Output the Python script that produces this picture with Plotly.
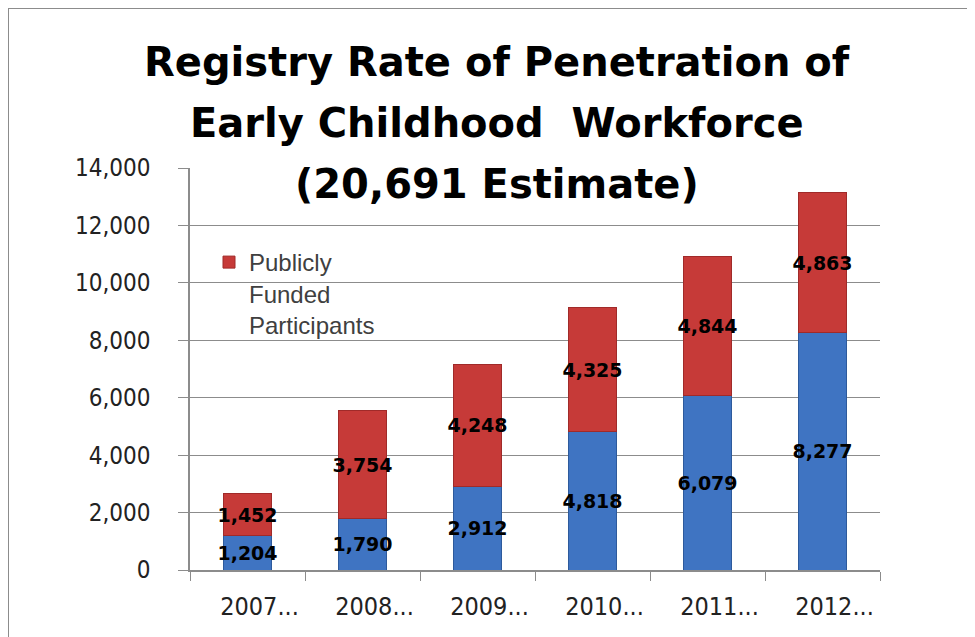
import plotly.graph_objects as go

years = ["2007...", "2008...", "2009...", "2010...", "2011...", "2012..."]
registry = [1204, 1790, 2912, 4818, 6079, 8277]
public = [1452, 3754, 4248, 4325, 4844, 4863]
title_lines = ["Registry Rate of Penetration of", "Early Childhood  Workforce", "(20,691 Estimate)"]
y_ticks = [0, 2000, 4000, 6000, 8000, 10000, 12000, 14000]

label_font = dict(family="DejaVu Sans", size=19, color="black", weight="bold")

# plot area in figure pixels
L, R, T, B = 182, 872, 160, 562
W, H = R - L, B - T

def px(x):
    return (x - L) / W

def py(y):
    return (B - y) / H

fig = go.Figure()
fig.add_trace(go.Bar(
    x=years, y=registry, name="Registry", showlegend=False,
    marker=dict(color="#3F74C2", line=dict(color="#2D5A9C", width=1)),
    text=[f"{v:,}" for v in registry], textposition="inside",
    insidetextanchor="middle", textangle=0, constraintext="none",
    insidetextfont=label_font,
))
fig.add_trace(go.Bar(
    x=years, y=public, name="Publicly<br>Funded<br>Participants",
    marker=dict(color="#C63A38", line=dict(color="#A02A29", width=1)),
    text=[f"{v:,}" for v in public], textposition="inside",
    insidetextanchor="middle", textangle=0, constraintext="none",
    insidetextfont=label_font,
))

ys = [54, 115, 176]
for line, yc in zip(title_lines, ys):
    fig.add_annotation(
        text=line, xref="paper", yref="paper",
        x=px(489), y=py(yc),
        xanchor="center", yanchor="middle", showarrow=False,
        font=dict(family="DejaVu Sans", size=40, color="black", weight="bold"),
    )

fig.add_shape(type="rect", xref="paper", yref="paper",
              x0=px(0), x1=px(1000), y0=py(660), y1=py(0),
              line=dict(color="#8C8C8C", width=2), layer="below")

fig.update_layout(
    width=975, height=637,
    barmode="stack", bargap=0.58,
    paper_bgcolor="white", plot_bgcolor="white",
    margin=dict(l=L, r=975 - R, t=T, b=637 - B),
    showlegend=True,
    legend=dict(x=px(201), y=py(232), xanchor="left", yanchor="top",
                bgcolor="rgba(0,0,0,0)", valign="top", tracegroupgap=0,
                font=dict(family="Liberation Sans", size=24, color="#404040")),
    xaxis=dict(showline=True, linecolor="#8C8C8C", linewidth=1.5,
               ticks="outside", tickson="boundaries", ticklen=9, tickcolor="#8C8C8C",
               ticklabelstandoff=13, ticklabelshift=12,
               tickfont=dict(family="DejaVu Sans Condensed", size=25, color="#222222"),
               showgrid=False),
    yaxis=dict(range=[0, 14000], tickvals=y_ticks,
               ticktext=[f"{v:,}" for v in y_ticks],
               showline=True, linecolor="#8C8C8C", linewidth=1.5,
               ticks="outside", ticklen=10, tickcolor="#8C8C8C",
               ticklabelstandoff=23,
               gridcolor="#8C8C8C", gridwidth=1, zeroline=False,
               tickfont=dict(family="DejaVu Sans Condensed", size=24, color="#222222")),
)

fig.write_html("out.html")
